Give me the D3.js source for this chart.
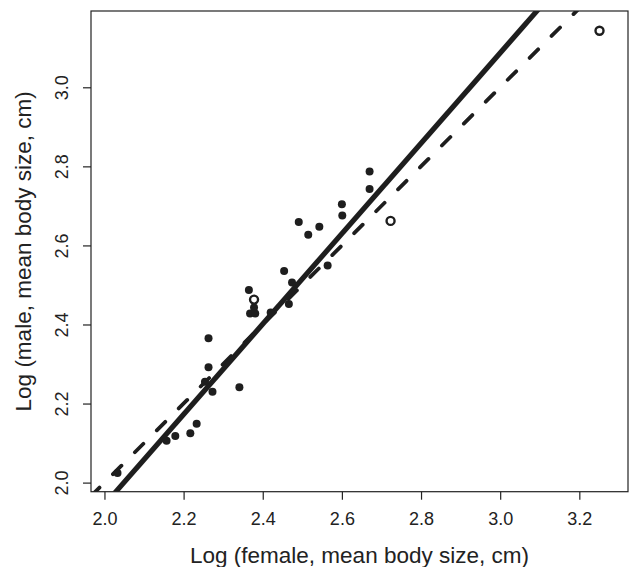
<!DOCTYPE html>
<html>
<head>
<meta charset="utf-8">
<script src="https://cdn.jsdelivr.net/npm/d3@7"></script>
<style>
  body { margin: 0; background: #fff; }
  text { font-family: "Liberation Sans", Arial, Helvetica, sans-serif; fill: #222; }
</style>
</head>
<body>
<div id="viz"></div>
<script>
// log female size (x) and log male size (y), filled points
const femaleFilled = [2.670, 2.670, 2.600, 2.601, 2.491, 2.543, 2.515, 2.564, 2.454, 2.474,
                      2.365, 2.378, 2.368, 2.381, 2.466, 2.420, 2.263, 2.263, 2.273, 2.341,
                      2.254, 2.233, 2.217, 2.179, 2.157, 2.033];
const maleFilled   = [2.787, 2.743, 2.704, 2.676, 2.659, 2.647, 2.627, 2.549, 2.535, 2.506,
                      2.487, 2.443, 2.428, 2.428, 2.452, 2.430, 2.365, 2.292, 2.230, 2.241,
                      2.255, 2.149, 2.125, 2.118, 2.106, 2.024];
// open circles
const femaleOpen = [2.378, 2.723, 3.251];
const maleOpen   = [2.463, 2.662, 3.143];

// fitted line (solid) and 1:1 line (dashed)
const fitIntercept = -0.342, fitSlope = 1.143;
const isoIntercept = 0, isoSlope = 1;

const xTicks = [2.0, 2.2, 2.4, 2.6, 2.8, 3.0, 3.2];
const yTicks = [2.0, 2.2, 2.4, 2.6, 2.8, 3.0];

const width = 630, height = 567;
const pLeft = 91, pRight = 628, pTop = 11, pBottom = 491.7;

const svg = d3.select("#viz").append("svg")
    .attr("width", width)
    .attr("height", height);

const x = d3.scaleLinear().domain([1.966, 3.323]).range([pLeft, pRight]);
const y = d3.scaleLinear().domain([1.977, 3.193]).range([pBottom, pTop]);

svg.append("clipPath").attr("id", "plotclip")
  .append("rect")
    .attr("x", pLeft).attr("y", pTop)
    .attr("width", pRight - pLeft).attr("height", pBottom - pTop);

const plot = svg.append("g").attr("clip-path", "url(#plotclip)");

const xd = x.domain();
function lineData(a, b) { return xd.map(v => [v, a + b * v]); }
const line = d3.line().x(d => x(d[0])).y(d => y(d[1]));

plot.append("path")
    .attr("d", line(lineData(isoIntercept, isoSlope)))
    .attr("fill", "none")
    .attr("stroke", "#1e1e1e")
    .attr("stroke-width", 3.8)
    .attr("stroke-linecap", "round")
    .attr("stroke-dasharray", "12,19");

plot.append("path")
    .attr("d", line(lineData(fitIntercept, fitSlope)))
    .attr("fill", "none")
    .attr("stroke", "#1e1e1e")
    .attr("stroke-width", 5.2);

plot.selectAll("circle.filled")
  .data(d3.zip(femaleFilled, maleFilled))
  .enter().append("circle")
    .attr("class", "filled")
    .attr("cx", d => x(d[0]))
    .attr("cy", d => y(d[1]))
    .attr("r", 4)
    .style("fill", "#1e1e1e");

plot.selectAll("circle.open")
  .data(d3.zip(femaleOpen, maleOpen))
  .enter().append("circle")
    .attr("class", "open")
    .attr("cx", d => x(d[0]))
    .attr("cy", d => y(d[1]))
    .attr("r", 4)
    .style("fill", "#fff")
    .style("stroke", "#1e1e1e")
    .style("stroke-width", 2.4);

// box
svg.append("rect")
    .attr("x", pLeft).attr("y", pTop)
    .attr("width", pRight - pLeft).attr("height", pBottom - pTop)
    .attr("fill", "none")
    .attr("stroke", "#222")
    .attr("stroke-width", 1.2);

const xAxis = svg.append("g")
    .attr("transform", `translate(0,${pBottom})`)
    .call(d3.axisBottom(x).tickValues(xTicks).tickFormat(d3.format(".1f"))
      .tickSize(8).tickPadding(13));
xAxis.select(".domain").remove();
xAxis.selectAll("line").attr("stroke", "#222").attr("stroke-width", 1.2);
xAxis.selectAll("text").style("font-size", "18px").attr("fill", "#222");

const yAxis = svg.append("g")
    .attr("transform", `translate(${pLeft},0)`)
    .call(d3.axisLeft(y).tickValues(yTicks).tickFormat(d3.format(".1f")).tickSize(8));
yAxis.select(".domain").remove();
yAxis.selectAll("line").attr("stroke", "#222").attr("stroke-width", 1.2);
yAxis.selectAll("text")
    .style("font-size", "18px")
    .attr("fill", "#222")
    .attr("x", null).attr("dy", null)
    .attr("text-anchor", "middle")
    .attr("transform", "translate(-23,0) rotate(-90)");

svg.append("text")
    .attr("x", (pLeft + pRight) / 2)
    .attr("y", 563)
    .attr("text-anchor", "middle")
    .style("font-size", "22.5px")
    .text("Log (female, mean body size, cm)");

svg.append("text")
    .attr("transform", `translate(30.5,${(pTop + pBottom) / 2}) rotate(-90)`)
    .attr("text-anchor", "middle")
    .style("font-size", "22.5px")
    .text("Log (male, mean body size, cm)");
</script>
</body>
</html>
